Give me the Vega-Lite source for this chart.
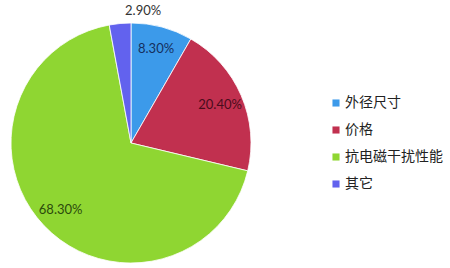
{
  "$schema": "https://vega.github.io/schema/vega-lite/v6.json",
  "width": 262,
  "height": 250,
  "autosize": "none",
  "padding": {"left": 0, "top": 18, "right": 188, "bottom": 0},
  "background": "white",
  "config": {"view": {"stroke": null}},
  "data": {
    "values": [
      {"item": "外径尺寸", "share": 0.083, "rank": 1},
      {"item": "价格", "share": 0.204, "rank": 2},
      {"item": "抗电磁干扰性能", "share": 0.683, "rank": 3},
      {"item": "其它", "share": 0.029, "rank": 4}
    ]
  },
  "encoding": {
    "theta": {"field": "share", "type": "quantitative", "stack": true},
    "order": {"field": "rank", "type": "ordinal"}
  },
  "layer": [
    {
      "mark": {"type": "arc", "outerRadius": 120, "stroke": "white", "strokeWidth": 0.8},
      "encoding": {
        "color": {
          "field": "item",
          "type": "nominal",
          "sort": ["外径尺寸", "价格", "抗电磁干扰性能", "其它"],
          "scale": {
            "domain": ["外径尺寸", "价格", "抗电磁干扰性能", "其它"],
            "range": ["#3c9aea", "#c1304f", "#8fd632", "#6262ee"]
          },
          "legend": {
            "title": null,
            "orient": "none",
            "legendX": 329,
            "legendY": 78,
            "symbolType": "square",
            "symbolSize": 50,
            "symbolStrokeWidth": 0,
            "rowPadding": 13,
            "labelFont": "Noto Sans CJK SC",
            "labelFontSize": 14,
            "labelColor": "#222222",
            "labelOffset": 2
          }
        }
      }
    },
    {
      "transform": [{"filter": "datum.share > 0.05"}],
      "mark": {"type": "text", "radius": 97, "font": "Lato", "fontSize": 13},
      "encoding": {
        "text": {"field": "share", "type": "quantitative", "format": ".2%"},
        "fill": {
          "field": "item",
          "type": "nominal",
          "scale": {
            "domain": ["外径尺寸", "价格", "抗电磁干扰性能", "其它"],
            "range": ["#15305e", "#4a0c1c", "#2c4a0c", "#222222"]
          },
          "legend": null
        }
      }
    },
    {
      "transform": [{"filter": "datum.share < 0.05"}],
      "mark": {"type": "text", "radius": 133, "font": "Lato", "fontSize": 13, "color": "#333333"},
      "encoding": {
        "text": {"field": "share", "type": "quantitative", "format": ".2%"}
      }
    }
  ]
}
